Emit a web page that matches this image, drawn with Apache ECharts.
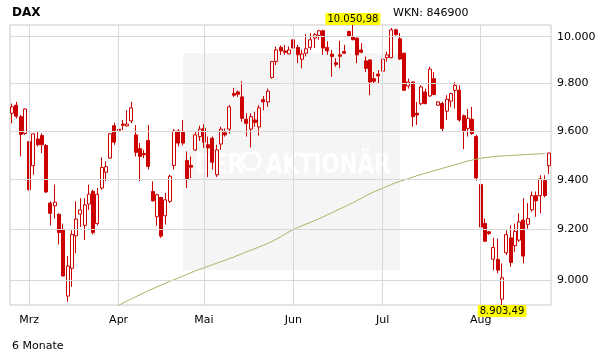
<!DOCTYPE html>
<html><head><meta charset="utf-8">
<script src="https://cdn.jsdelivr.net/npm/echarts@6/dist/echarts.min.js"></script>
<style>html,body{margin:0;padding:0;background:#fff}#c{width:611px;height:364px}</style>
</head><body><div id="c"></div>
<script>
// DAX daily candles (Feb 25 - Aug 25)
const openV = [9674,9708,9660,9590,9556,9457,9567,9581,9540,9305,9294,9260,9200,8938,9046,9174,9261,9216,9301,9352,
 9223,9366,9430,9488,9622,9607,9629,9621,9642,9584,9527,9507,9561,9352,9250,9328,9254,9312,9458,9600,
 9594,9478,9458,9522,9577,9611,9543,9570,9420,9546,9593,9608,9757,9764,9743,9649,9608,9646,9617,9731,
 9722,9825,9893,9954,9939,9926,9987,9954,9903,9929,9954,9994,10006,10026,9954,9925,9888,9922,9936,10023,
 9999,9994,9943,9896,9900,9820,9839,9852,9910,9910,10030,9991,9929,9789,9806,9674,9714,9764,9747,9820,
 9708,9715,9683,9725,9771,9771,9664,9611,9649,9577,9380,9223,9190,9082,9081,8926,9107,9166,9135,9157,
 9237,9220,9278,9335,9335,9396,9457];
const closeV = [9701,9662,9586,9692,9359,9588,9543,9543,9350,9264,9309,9187,9016,9055,9180,9241,9278,9298,9341,9187,
 9341,9450,9453,9589,9554,9603,9624,9629,9697,9512,9495,9502,9454,9314,9339,9173,9318,9414,9600,9550,
 9550,9404,9451,9584,9608,9554,9530,9471,9522,9608,9584,9701,9750,9754,9653,9632,9660,9636,9697,9722,
 9767,9893,9943,9939,9933,9943,9951,9922,9926,9948,9987,10009,10026,9951,9939,9915,9881,9916,9929,10001,
 9987,9922,9933,9864,9806,9809,9832,9904,9922,10030,10009,9904,9771,9806,9660,9667,9785,9715,9861,9753,
 9722,9611,9733,9757,9792,9646,9601,9653,9590,9407,9209,9153,9183,9128,9039,9009,9179,9069,9192,9230,
 9094,9243,9335,9314,9403,9336,9509];
const lowV = [9632,9653,9495,9584,9356,9420,9536,9509,9346,9216,9243,9140,9014,8916,8974,9105,9209,9157,9278,9180,
 9216,9359,9393,9486,9543,9597,9604,9619,9632,9495,9393,9488,9441,9312,9214,9166,9219,9305,9441,9536,
 9540,9366,9407,9518,9559,9530,9410,9441,9411,9522,9577,9590,9743,9743,9639,9577,9532,9618,9581,9687,
 9701,9820,9878,9922,9922,9925,9910,9886,9864,9915,9943,9951,9987,9922,9922,9828,9871,9864,9926,9999,
 9985,9886,9929,9849,9750,9799,9799,9849,9893,9907,10006,9900,9768,9778,9618,9625,9708,9711,9743,9750,
 9706,9597,9646,9700,9694,9639,9525,9577,9584,9396,9205,9150,9178,9039,9026,8903.49,9098,9052,9111,9150,
 9065,9203,9271,9250,9264,9328,9423];
const highV = [9715,9722,9667,9694,9559,9590,9600,9590,9546,9312,9380,9264,9223,9094,9196,9312,9325,9325,9380,9359,
 9366,9491,9475,9590,9635,9614,9646,9687,9722,9625,9550,9522,9625,9393,9343,9330,9346,9420,9608,9608,
 9646,9516,9495,9597,9622,9628,9577,9577,9543,9618,9611,9708,9781,9771,9809,9674,9674,9681,9708,9747,
 9778,9896,9958,9962,9965,9958,9994,9965,9943,10012,10016,10016,10030,10030,9980,9943,9907,9983,9965,10026,
 10050.98,9996,9972,9915,9904,9849,9857,9915,9936,10038,10035,10016,9931,9820,9808,9722,9792,9778,9871,9849,
 9724,9722,9750,9761,9806,9792,9669,9692,9701,9584,9396,9243,9193,9166,9163,9065,9196,9216,9223,9264,
 9325,9305,9352,9352,9418,9418,9510];
// 200-day moving average, from candle index maStart on
const maStart = 24;
const ma200 = [8895,8902,8911,8919,8927,8935,8943,8951,8959,8966,8974,8981,8988,8995,9001,9008,9015,9022,9029,9036,
 9042,9048,9054,9060,9066,9072,9078,9084,9090,9097,9104,9111,9117,9123,9130,9137,9144,9152,9161,9170,
 9180,9190,9199,9207,9214,9221,9228,9235,9242,9250,9258,9266,9274,9282,9290,9298,9307,9316,9325,9334,
 9343,9351,9358,9366,9373,9380,9387,9393,9398,9404,9410,9416,9421,9426,9431,9436,9441,9446,9451,9456,
 9461,9466,9471,9476,9480,9484,9487,9490,9492,9494,9496,9497,9498,9499,9500,9501,9502,9503,9504,9505,
 9506,9507];
const monthIdx = [4,25,45,66,87,110];
const monthNames = ['Mrz','Apr','Mai','Jun','Jul','Aug'];
const yTicks = [9000,9200,9400,9600,9800,10000];
const highIdx = 80, lowIdx = 115;
const titleText = 'DAX', wknText = 'WKN: 846900', periodText = '6 Monate';

function fmtDE(v, dec) {
  const p = v.toFixed(dec).split('.');
  const i = p[0].replace(/\B(?=(\d{3})+(?!\d))/g, '.');
  return dec ? i + ',' + p[1] : i;
}
const yMin = lowV[lowIdx], yMax = highV[highIdx];
const cats = openV.map((_, i) => String(i));
const candles = openV.map((o, i) => [o, closeV[i], lowV[i], highV[i]]);
const maData = cats.map((_, i) => (i >= maStart && i - maStart < ma200.length) ? ma200[i - maStart] : null);
const FONT = 'DejaVu Sans';
const RED = '#cc0000';
const WM_FONT = 'bold 26px "DejaVu Sans"';

const chart = echarts.init(document.getElementById('c'), null, {renderer: 'canvas'});
chart.setOption({
  animation: false,
  backgroundColor: '#fff',
  grid: {left: 10, right: 60, top: 25, bottom: 59, show: true, borderColor: '#c8c8c8', borderWidth: 1, backgroundColor: 'transparent'},
  xAxis: {
    type: 'category', data: cats, boundaryGap: true,
    axisLine: {show: false}, axisTick: {show: false}, splitLine: {show: false},
    axisLabel: {
      interval: (i) => monthIdx.indexOf(i) >= 0,
      formatter: (v) => monthNames[monthIdx.indexOf(Number(v))] || '',
      color: '#000', fontSize: 11, fontFamily: FONT, margin: 10
    }
  },
  yAxis: {
    type: 'log', logBase: 10, min: yMin, max: yMax, position: 'right', scale: true,
    axisLine: {show: false}, axisTick: {show: false, customValues: yTicks}, splitLine: {show: false},
    axisLabel: {customValues: yTicks, formatter: (v) => fmtDE(v, 0), color: '#000', fontSize: 11, fontFamily: FONT, margin: 6}
  },
  graphic: [
    {type: 'rect', z: -10, silent: true, shape: {x: 183, y: 53, width: 217, height: 217}, style: {fill: '#f5f5f5'}},
    {type: 'text', z: -9, silent: true, x: 195, y: 179, scaleX: 0.82, style: {text: 'DER', x: 0, y: 0, fill: '#ffffff', font: WM_FONT, verticalAlign: 'bottom'}},
    {type: 'circle', z: -9, silent: true, shape: {cx: 251, cy: 161, r: 9}, style: {fill: 'none', stroke: '#ffffff', lineWidth: 3}},
    {type: 'text', z: -9, silent: true, x: 266, y: 179, scaleX: 0.82, style: {text: 'AKTIONÄR', x: 0, y: 0, fill: '#ffffff', font: WM_FONT, verticalAlign: 'bottom'}},
    {type: 'text', style: {text: titleText, x: 12, y: 7, fill: '#000', font: 'bold 12px "DejaVu Sans"'}},
    {type: 'text', style: {text: wknText, x: 393, y: 8, fill: '#000', font: '11px "DejaVu Sans"'}},
    {type: 'text', style: {text: periodText, x: 12, y: 341, fill: '#000', font: '11px "DejaVu Sans"'}}
  ],
  series: [
    {
      type: 'line', data: [], z: 1, silent: true,
      markLine: {
        silent: true, symbol: 'none', animation: false,
        label: {show: false},
        lineStyle: {color: '#d8d8d8', width: 1, type: 'solid'},
        emphasis: {disabled: true},
        data: yTicks.map(v => ({yAxis: v})).concat(monthIdx.map(i => ({xAxis: i})))
      }
    },
    {
      type: 'candlestick', data: candles, barWidth: 3.5, z: 3,
      itemStyle: {color: '#ffffff', color0: RED, borderColor: RED, borderColor0: RED, borderColorDoji: RED, borderWidth: 1},
      markPoint: {
        symbol: 'rect', symbolSize: 0, silent: true, animation: false,
        data: [
          {coord: [highIdx, yMax], label: {position: 'top', distance: 0, formatter: fmtDE(yMax, 2)}},
          {coord: [lowIdx, yMin], label: {position: 'bottom', distance: 0, formatter: fmtDE(yMin, 2)}}
        ],
        label: {show: true, backgroundColor: '#ffff00', color: '#000', fontSize: 10, fontFamily: FONT, padding: [1, 2, 0, 2], lineHeight: 11}
      }
    },
    {
      type: 'line', data: maData, z: 4, showSymbol: false, symbol: 'none', clip: true, silent: true,
      lineStyle: {color: '#a4b464', width: 1}
    }
  ]
});
</script>
</body></html>
